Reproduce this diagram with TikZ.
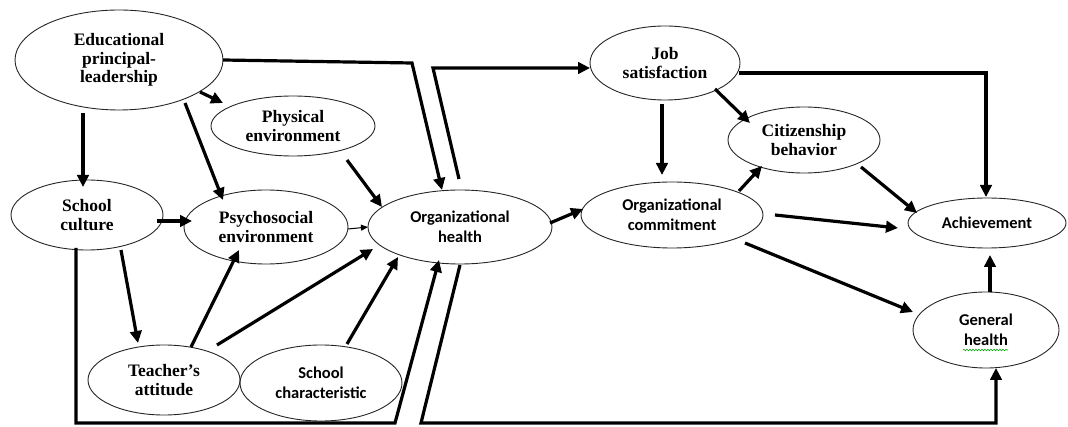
\documentclass[tikz,border=0pt]{standalone}
\usepackage{fontspec}
\usetikzlibrary{shapes.geometric,arrows.meta,calc,decorations.pathmorphing}
\newfontfamily\tnrfont{Liberation Serif}
\newfontfamily\calfont{Carlito}
\begin{document}
\begin{tikzpicture}[x=1pt,y=-1pt,
  oval/.style={ellipse,draw=black!85,line width=0.9pt,inner sep=0pt,align=center,text=black},
  serifb/.style={font=\fontsize{17.5}{18.5}\selectfont\tnrfont\bfseries},
  sansb/.style={font=\fontsize{16.5}{20}\selectfont\calfont\bfseries},
  arr/.style={line width=3.2pt,-{Triangle[length=12pt,width=11.5pt]}},
  thinarr/.style={line width=1pt,-{Triangle[length=7pt,width=6pt]}},
  line join=miter]
\useasboundingbox (0,0) rectangle (1068,427);
% nodes
\node[oval,serifb,minimum width=208pt,minimum height=100pt] (edu) at (119,60) {Educational\\principal-\\leadership};
\node[oval,serifb,minimum width=164pt,minimum height=60pt] (phys) at (293,126) {Physical\\environment};
\node[oval,serifb,minimum width=152pt,minimum height=70pt] (sc) at (87,215) {School\\culture};
\node[oval,serifb,minimum width=164pt,minimum height=74pt] (psy) at (266,227) {Psychosocial\\environment};
\node[oval,sansb,minimum width=184pt,minimum height=74pt] (oh) at (460,227) {Organizational\\health};
\node[oval,serifb,minimum width=152pt,minimum height=70pt] (ta) at (164,380) {Teacher’s\\attitude};
\node[oval,sansb,minimum width=162pt,minimum height=76pt] (sch) at (321,383) {School\\characteristic};
\node[oval,serifb,minimum width=150pt,minimum height=74pt] (js) at (665,63) {Job\\satisfaction};
\node[oval,serifb,minimum width=152pt,minimum height=66pt] (cb) at (804,140) {Citizenship\\behavior};
\node[oval,sansb,minimum width=182pt,minimum height=66pt] (oc) at (672,215) {Organizational\\commitment};
\node[oval,sansb,minimum width=158pt,minimum height=50pt] (ach) at (987,223) {Achievement};
\node[oval,sansb,minimum width=146pt,minimum height=76pt] (gh) at (986,330) {General\\health};
% spell-check underline
\draw[green!65!black,line width=0.6pt,decorate,decoration={snake,amplitude=0.8pt,segment length=3pt}]
  ($(gh)+(-23,20)$) -- ($(gh)+(22,20)$);
% corner coordinates
\coordinate (c1) at (412,63);
\coordinate (c2) at (433,68);
\coordinate (c3) at (395,423);
\coordinate (c4) at (421,423);
% left part
\draw[arr] ($(edu)+(-36,53)$) -- ($(sc)+(-4,-28)$);
\draw[arr] ($(edu)+(81,32)$) -- ($(phys)+(-70,-23)$);
\draw[arr] ($(edu)+(66,43)$) -- ($(psy)+(-43,-27)$);
\draw[arr] ($(edu)+(104,0)$) -- (c1) -- ($(oh)+(-18,-37)$);
\draw[arr] ($(oh)+(-1,-48)$) -- (c2) -- ($(js)+(-75,5)$);
\draw[arr] ($(phys)+(54,34)$) -- ($(oh)+(-78,-20)$);
\draw[thinarr] ($(psy)+(82,2)$) -- ($(oh)+(-92,0)$);
\draw[arr] ($(sc)+(70,6)$) -- ($(psy)+(-74,-6)$);
\draw[arr] ($(sc)+(-11,33)$) |- (c3) -- ($(oh)+(-21,33)$);
\draw[arr] ($(sc)+(34,35)$) -- ($(ta)+(-26,-37)$);
\draw[arr] ($(ta)+(27,-33)$) -- ($(psy)+(-27,23)$);
\draw[arr] ($(ta)+(53,-35)$) -- ($(oh)+(-87,22)$);
\draw[arr] ($(sch)+(26,-39)$) -- ($(oh)+(-62,30)$);
\draw[arr] ($(oh)+(0,38)$) -- (c4) -| ($(gh)+(10,38)$);
% right part
\draw[arr] ($(oh)+(90,-4)$) -- ($(oc)+(-89,-6)$);
\draw[arr] ($(js)+(-3,41)$) -- ($(oc)+(-10,-40)$);
\draw[arr] ($(js)+(50,26)$) -- ($(cb)+(-54,-17)$);
\draw[arr] ($(oc)+(67,-24)$) -- ($(cb)+(-42,26)$);
\draw[arr] ($(js)+(74,10)$) -| ($(ach)+(-1,-26)$);
\draw[arr] ($(cb)+(57,27)$) -- ($(ach)+(-70,-10)$);
\draw[arr] ($(oc)+(103,0)$) -- ($(ach)+(-89,5)$);
\draw[arr] ($(oc)+(73,28)$) -- ($(gh)+(-73,-18)$);
\draw[arr] ($(gh)+(4,-38)$) -- ($(ach)+(3,32)$);
\end{tikzpicture}
\end{document}
